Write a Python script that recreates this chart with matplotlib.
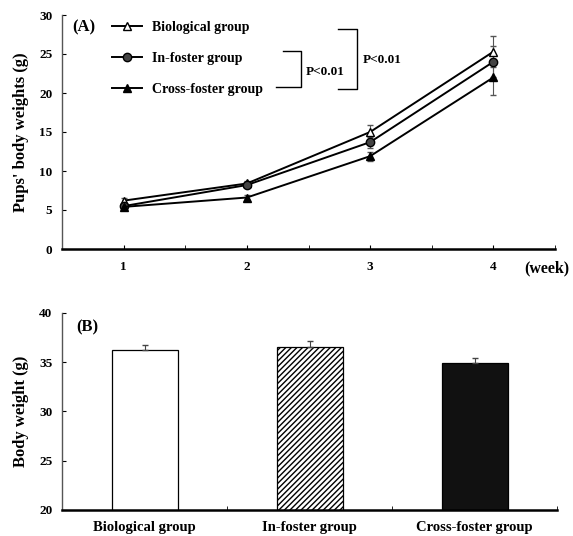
import matplotlib
matplotlib.use("Agg")
import matplotlib.pyplot as plt
from matplotlib.lines import Line2D
import numpy as np

# ---- data ----
weeks = [1, 2, 3, 4]
week_labels = ["1", "2", "3", "4"]
bio_w = [6.2, 8.4, 15.0, 25.3]
bio_err = [0.4, 0.3, 0.9, 2.0]
infoster_w = [5.5, 8.2, 13.7, 24.0]
infoster_err = [0.3, 0.3, 0.7, 2.0]
cross_w = [5.4, 6.6, 11.9, 22.0]
cross_err = [0.3, 0.3, 0.6, 2.3]
series_names = ["Biological group", "In-foster group", "Cross-foster group"]

bar_groups = ["Biological group", "In-foster group", "Cross-foster group"]
bar_vals = [36.2, 36.5, 34.9]
bar_errs = [0.6, 0.7, 0.5]

W, H = 573, 536
plt.rcParams['font.family'] = ['Liberation Serif', 'DejaVu Serif']
plt.rcParams['font.weight'] = 'bold'
fig = plt.figure(figsize=(W / 100, H / 100), dpi=100)

def fx(px):
    return px / W

def fy(py):
    return 1 - py / H

# ---- panel A ----
axA = fig.add_axes([fx(62), fy(249), fx(555) - fx(62), fy(15) - fy(249)])
styles = [
    dict(marker='^', mfc='white', mec='black', ms=6),
    dict(marker='o', mfc='#444444', mec='black', ms=6),
    dict(marker='^', mfc='black', mec='black', ms=6),
]
handles = []
for vals, errs, name, st in zip([bio_w, infoster_w, cross_w],
                                [bio_err, infoster_err, cross_err],
                                series_names, styles):
    axA.errorbar(weeks, vals, yerr=errs, color='black', lw=1.4,
                 elinewidth=0.8, ecolor='#555555', capsize=2, **st)
    handles.append(Line2D([], [], color='black', lw=1.4, label=name, **st))
axA.set_xlim(0.5, 4.48)
axA.set_ylim(0, 30)
axA.set_xticks(weeks)
axA.set_xticklabels(week_labels)
axA.set_xticks([1.5, 2.5, 3.5, 4.5], minor=True)
axA.set_yticks([0, 5, 10, 15, 20, 25, 30])
axA.tick_params(axis='both', direction='in', length=3, width=0.8, labelsize=9.5)
axA.tick_params(axis='x', which='minor', direction='in', length=3)
axA.tick_params(axis='x', pad=9)
axA.tick_params(axis='y', pad=7)
for s in ['top', 'right']:
    axA.spines[s].set_visible(False)
axA.spines['left'].set_linewidth(1.0)
axA.spines['left'].set_color('#555555')
axA.spines['bottom'].set_linewidth(1.8)
axA.set_ylabel("Pups' body weights (g)", fontsize=12, fontweight='bold', labelpad=7)
axA.legend(handles=handles, loc='upper left', bbox_to_anchor=(0.09, 1.0), frameon=False,
           fontsize=10, handlelength=2.15, handletextpad=0.7,
           labelspacing=1.3, borderaxespad=0.0)
axA.text((72 - 62) / 493, (249 - 27) / 234, "(A)", transform=axA.transAxes,
         fontsize=12, va='center', ha='left')
fig.text(fx(524), fy(268), "(week)", fontsize=11.5, va='center', ha='left')

# brackets (figure pixel coordinates)
def seg(xs, ys):
    fig.add_artist(Line2D([fx(x) for x in xs], [fy(y) for y in ys],
                          color='black', lw=1.0, transform=fig.transFigure))

seg([283, 301, 301, 276], [51, 51, 87, 87])
fig.text(fx(306), fy(72), "P<0.01", fontsize=9.5, va='center', ha='left')
seg([338, 357, 357, 338], [29, 29, 89, 89])
fig.text(fx(363), fy(60), "P<0.01", fontsize=9.5, va='center', ha='left')

# ---- panel B ----
axB = fig.add_axes([fx(62), fy(510), fx(557) - fx(62), fy(313) - fy(510)])
pos = np.arange(len(bar_groups))
faces = ['white', 'white', '#111111']
hatches = ['', '//////', '']
for p, v, e, fc, h in zip(pos, bar_vals, bar_errs, faces, hatches):
    axB.bar(p, v, width=0.4, color=fc, edgecolor='black', hatch=h, lw=0.9,
            yerr=[[0], [e]], error_kw=dict(ecolor='#444444', elinewidth=0.8, capsize=2))
axB.set_xlim(-0.5, 2.5)
axB.set_ylim(20, 40)
axB.set_xticks(pos)
axB.set_xticklabels(bar_groups)
axB.set_xticks([0.5, 1.5, 2.5], minor=True)
axB.set_yticks([20, 25, 30, 35, 40])
axB.tick_params(axis='both', direction='in', length=3, width=0.8, labelsize=9.5)
axB.tick_params(axis='x', which='major', length=0, pad=8, labelsize=10.5)
axB.tick_params(axis='x', which='minor', direction='in', length=3)
axB.tick_params(axis='y', pad=7)
for s in ['top', 'right']:
    axB.spines[s].set_visible(False)
axB.spines['left'].set_linewidth(1.0)
axB.spines['left'].set_color('#555555')
axB.spines['bottom'].set_linewidth(1.8)
axB.set_ylabel("Body weight (g)", fontsize=12, fontweight='bold', labelpad=7)
axB.text((76 - 62) / 495, (510 - 327) / 197, "(B)", transform=axB.transAxes,
         fontsize=12, va='center', ha='left')

fig.savefig("out.png", dpi=100)
